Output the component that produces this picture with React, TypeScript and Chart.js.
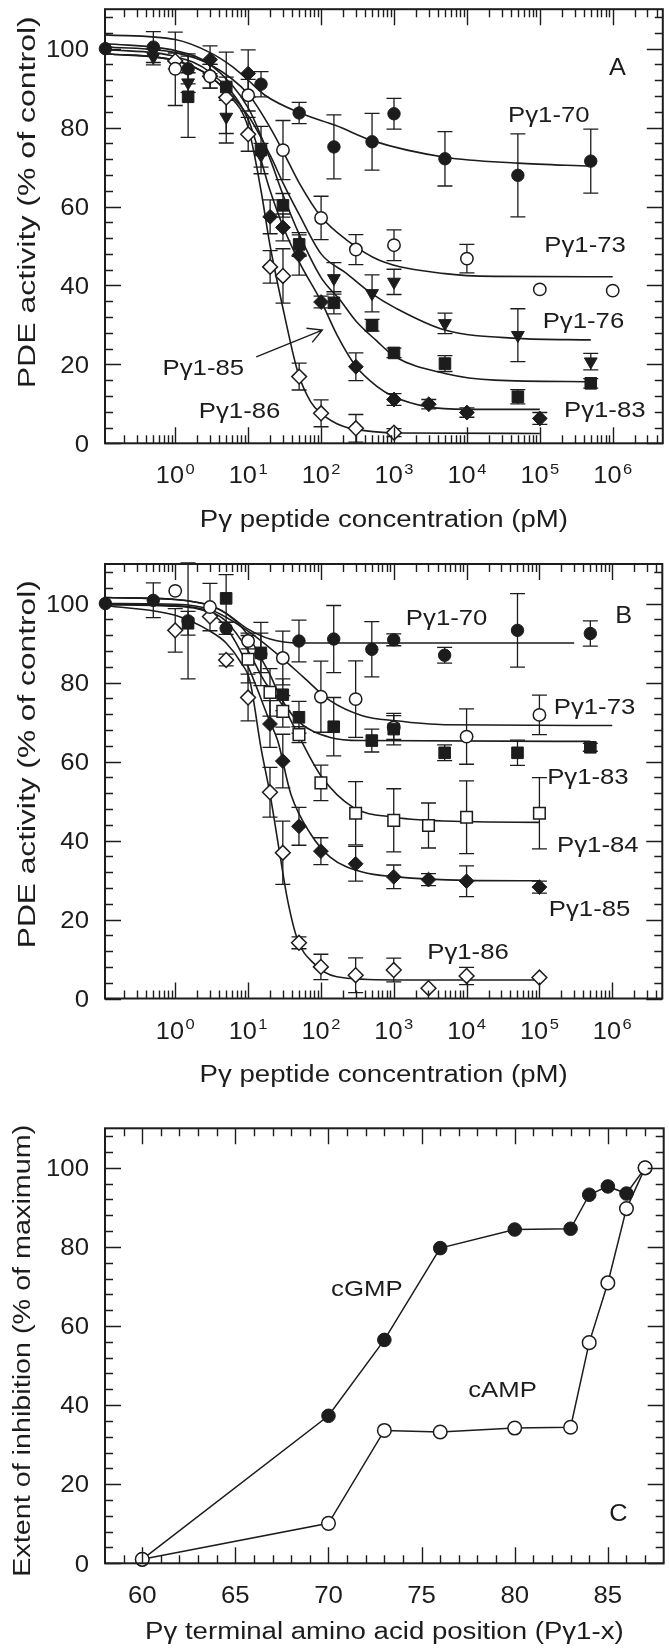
import React, { useEffect, useRef } from 'react';
import { Chart, registerables } from 'chart.js';
Chart.register(...registerables);

const INK = '#1c1c1c';
const FONT = '"Liberation Sans", Arial, Helvetica, sans-serif';

// control (no peptide) is drawn at the left axis
const CTRL = 0.11;

// ---------------- Panel A (cGMP hydrolysis) ----------------
const aX70 = [CTRL, 0.5, 1.5, 15, 50, 150, 500, 1000, 5000, 5e4, 5e5];
const aY70 = [100, 100.4, 94.9, 91.0, 83.7, 75.1, 76.4, 83.5, 72.1, 67.9, 71.5];
const aE70 = [0, 3.9, 3.8, 3.2, 2.7, 8.1, 7.2, 3.9, 6.9, 10.5, 8.1];

const aX73 = [1, 3, 10, 30, 100, 300, 1000, 1e4, 1e5, 1e6];
const aY73 = [94.9, 93.0, 88.2, 74.3, 57.1, 49.1, 50.2, 46.8, 39.0, 38.7];
const aE73 = [9.3, 3.0, 4.0, 7.5, 5.5, 3.8, 3.9, 3.6, 0, 0];

const aX76 = [0.5, 1.5, 5, 15, 150, 500, 1000, 5000, 5e4, 5e5];
const aY76 = [97.9, 91.4, 82.7, 73.0, 41.8, 38.0, 40.9, 30.4, 27.4, 20.7];
const aE76 = [2, 2.5, 4.2, 3, 4, 4.7, 3.2, 2.6, 6.7, 2.1];

const aX83 = [1.5, 5, 15, 30, 50, 150, 500, 1000, 5000, 5e4, 5e5];
const aY83 = [87.8, 90.3, 74.3, 60.3, 50.4, 35.6, 29.9, 22.9, 20.2, 11.8, 15.2];
const aE83 = [10.3, 2.5, 6, 3, 3, 2.8, 1.5, 1.2, 2, 1.8, 1.2];

const aX85 = [3, 10, 20, 30, 50, 100, 300, 1000, 3000, 1e4, 1e5];
const aY85 = [97.2, 93.7, 57.4, 54.7, 47.7, 35.8, 19.4, 11.1, 9.9, 7.8, 6.3];
const aE85 = [3.5, 6, 4.3, 3.4, 5.1, 1.5, 3.5, 1.5, 1.2, 1.2, 1.5];

const aX86 = [1, 3, 5, 10, 20, 30, 50, 100, 300, 1000];
const aY86 = [96.9, 93.0, 87.6, 78.3, 44.7, 42.4, 16.9, 7.6, 3.8, 2.7];
const aE86 = [2, 3, 11.5, 4.3, 4.1, 6.9, 3.4, 3.4, 3.5, 1];

// fitted curves, panel A
const aCx70 = [CTRL, 1, 3, 6, 10, 17, 50, 160, 500, 5000, 5e4, 5e5];
const aCy70 = [103.5, 102.3, 99, 95.5, 92, 88.2, 83.8, 80.5, 76.7, 72.5, 71, 70.2];
const aCx73 = [CTRL, 1, 3, 10, 20, 30, 50, 100, 225, 630, 5000, 2.4e4, 1e6];
const aCy73 = [100.5, 99, 96, 88.5, 80, 74, 66, 57.4, 51.5, 46.4, 43, 42.3, 42.2];
const aCx76 = [CTRL, 1, 3, 10, 20, 30, 50, 100, 225, 490, 1070, 5000, 5e4, 5e5];
const aCy76 = [98.7, 97, 93, 83, 73, 66, 58, 48, 43, 38, 34.2, 28.7, 26.6, 26.2];
const aCx83 = [CTRL, 1, 3, 10, 20, 30, 50, 100, 182, 300, 575, 1020, 5000, 2.4e4, 5e5];
const aCy83 = [101.3, 99.5, 96, 85, 72, 63, 53, 42, 36.3, 31, 26, 22, 17.7, 16, 15.6];
const aCx85 = [CTRL, 1, 3, 10, 20, 30, 50, 100, 165, 300, 575, 1000, 2800, 1e4, 1e5];
const aCy85 = [99.8, 98, 94, 82, 64, 55, 46, 36, 27.5, 19.5, 14.5, 11.8, 9.3, 8.6, 8.6];
const aCx86 = [CTRL, 1, 3, 5, 10, 15, 20, 31, 48, 72, 100, 200, 575, 1000, 1e5];
const aCy86 = [98.7, 97, 93, 89, 80, 64, 50, 33, 18, 10.5, 7.6, 4.3, 2.9, 2.6, 2.5];

// ---------------- Panel B (cAMP hydrolysis) ----------------
const bX70 = [CTRL, 0.5, 1.5, 5, 15, 50, 150, 500, 1000, 5000, 5e4, 5e5];
const bY70 = [100, 100.8, 95.6, 93.7, 87.2, 90.5, 91.0, 88.4, 90.8, 86.9, 93.2, 92.4];
const bE70 = [0, 4.4, 14.7, 1.5, 8, 5.3, 8.5, 7, 1.5, 2, 9.3, 3.2];

const bX73 = [1, 3, 10, 30, 100, 300, 1000, 1e4, 1e5];
const bY73 = [103.2, 99.1, 90.5, 86.2, 76.4, 75.8, 68.6, 66.3, 71.8];
const bE73 = [0, 6, 2, 6.8, 9, 9.7, 3, 7, 5];

const bX83 = [1.5, 5, 15, 30, 50, 150, 500, 1000, 5000, 5e4, 5e5];
const bY83 = [95.0, 101.3, 87.5, 76.9, 71.2, 68.8, 65.3, 68.2, 62.2, 62.2, 63.6];
const bE83 = [3, 6, 5, 4, 4, 7.4, 2.9, 4, 2, 3.2, 1];

const bX84 = [10, 20, 30, 50, 100, 300, 1000, 3000, 1e4, 1e5];
const bY84 = [85.9, 77.5, 72.7, 66.8, 54.6, 46.9, 45.1, 43.8, 45.9, 46.9];
const bE84 = [6, 6, 4, 2, 4.5, 8, 8, 5.7, 9.2, 9];

const bX85 = [20, 30, 50, 100, 300, 1000, 3000, 1e4, 1e5];
const bY85 = [69.5, 60.1, 43.6, 37.3, 34.1, 30.8, 30.1, 29.7, 28.2];
const bE85 = [5.9, 6.8, 4.8, 3.4, 4.4, 3, 1.5, 3.9, 1.5];

const bX86 = [1, 3, 5, 10, 20, 30, 50, 100, 300, 1000, 3000, 1e4, 1e5];
const bY86 = [93.2, 96.7, 85.7, 76.2, 52.2, 36.9, 14.1, 8.0, 5.9, 7.2, 2.6, 5.7, 5.3];
const bE86 = [5.5, 0, 1.5, 5.9, 6.3, 8, 1.5, 3.2, 4.4, 3, 0, 2.2, 0];

const bCx70 = [CTRL, 1, 3, 5, 10, 20, 50, 3e5];
const bCy70 = [101.5, 101, 99.5, 97.5, 93.5, 91, 90, 90];
const bCx73 = [CTRL, 1, 3, 10, 30, 58, 134, 370, 1070, 5000, 1e6];
const bCy73 = [100, 99.8, 98.5, 93, 86, 81.3, 75.4, 71.6, 70.3, 69.3, 69.1];
const bCx83 = [CTRL, 1, 3, 5, 10, 14, 20, 28, 48, 134, 370, 5e5];
const bCy83 = [101.5, 101, 99.5, 97.5, 92, 87.2, 82, 76.2, 70.3, 66.1, 65.3, 65.1];
const bCx84 = [CTRL, 1, 3, 5, 10, 16.7, 31, 48, 100, 277, 1000, 1e4, 1e5];
const bCy84 = [99.8, 99.5, 98, 95.5, 88, 80.4, 73.7, 67, 56.4, 48.4, 45.9, 44.8, 44.6];
const bCx85 = [CTRL, 1, 3, 5, 10, 20, 25.5, 38.6, 72, 134, 370, 1070, 1e4, 1e5];
const bCy85 = [99.7, 99.3, 97.5, 94, 84, 70, 65.3, 51.8, 41.7, 35.8, 32, 30.8, 29.9, 29.8];
const bCx86 = [CTRL, 1, 3, 5, 8, 10.6, 15, 20, 26.8, 34.9, 48, 80, 165, 1000, 1e5];
const bCy86 = [99.5, 97, 93, 90, 85, 80.4, 63.6, 51.8, 37.5, 24.9, 14.8, 8.9, 5.5, 4.7, 4.7];

// ---------------- Panel C ----------------
const cPos = [60, 70, 73, 76, 80, 83, 84, 85, 86, 87];
const cGMP = [1, 37.3, 56.5, 79.7, 84.4, 84.6, 93.2, 95.3, 93.5, 100];
const cAMP = [1, 10.1, 33.6, 33.2, 34.2, 34.4, 55.8, 70.9, 89.7, 100];

// ---------------- axes / tick labels ----------------
const LOG_MIN = 0.10864;
const LOG_MAX = 4.864e6;
const LOG_MAJOR = [1, 10, 100, 1e3, 1e4, 1e5, 1e6];
const LOG_EXP = ['0', '1', '2', '3', '4', '5', '6'];
const Y_MAJOR = [0, 20, 40, 60, 80, 100];
const Y_LABELS = ['0', '20', '40', '60', '80', '100'];
const C_MAJOR = [60, 65, 70, 75, 80, 85];
const C_LABELS = ['60', '65', '70', '75', '80', '85'];

const logMinor: number[] = [];
for (let e = -1; e <= 6; e++) for (let k = 2; k <= 9; k++) {
  const v = k * Math.pow(10, e);
  if (v > LOG_MIN && v < LOG_MAX) logMinor.push(v);
}
const yMinor: number[] = [];
for (let v = 4; v <= 108; v += 4) if (v % 20 !== 0) yMinor.push(v);
const cMinor: number[] = [];
for (let v = 59; v <= 87; v++) if (v % 5 !== 0) cMinor.push(v);

type Note = { text: string; x: number; y: number; align: 'left' | 'center'; size?: number; sx?: number };

const notesA: Note[] = [
  { text: 'Pγ1-70', x: 36700, y: 83.4, align: 'left' },
  { text: 'Pγ1-73', x: 115300, y: 50.4, align: 'left' },
  { text: 'Pγ1-76', x: 109400, y: 31.2, align: 'left' },
  { text: 'Pγ1-83', x: 214800, y: 8.6, align: 'left' },
  { text: 'Pγ1-85', x: 0.669, y: 19.4, align: 'left' },
  { text: 'Pγ1-86', x: 2.1, y: 8.4, align: 'left' },
  { text: 'A', x: 1.158e6, y: 95.4, align: 'center', size: 23, sx: 1.1 },
];
const arrowA = { x1: 12.9, y1: 21.9, x2: 104, y2: 28.7 };

const notesB: Note[] = [
  { text: 'Pγ1-70', x: 1466, y: 96.6, align: 'left' },
  { text: 'B', x: 1.43e6, y: 97.1, align: 'center', size: 23, sx: 1.1 },
  { text: 'Pγ1-73', x: 157400, y: 74.1, align: 'left' },
  { text: 'Pγ1-83', x: 127600, y: 56.4, align: 'left' },
  { text: 'Pγ1-84', x: 174600, y: 39.0, align: 'left' },
  { text: 'Pγ1-85', x: 134600, y: 22.8, align: 'left' },
  { text: 'Pγ1-86', x: 2884, y: 12.1, align: 'left' },
];

const notesC: Note[] = [
  { text: 'cGMP', x: 70.14, y: 69.6, align: 'left' },
  { text: 'cAMP', x: 77.5, y: 44, align: 'left' },
  { text: 'C', x: 85.57, y: 12.7, align: 'center', size: 23, sx: 1.1 },
];

// ---------------- drawing helpers ----------------
function txt(ctx: CanvasRenderingContext2D, s: string, x: number, yBase: number, size: number, align: string, sx = 1) {
  ctx.save();
  ctx.font = `${size}px ${FONT}`;
  ctx.fillStyle = INK;
  ctx.textBaseline = 'alphabetic';
  ctx.textAlign = 'left';
  const w = ctx.measureText(s).width * sx;
  const x0 = align === 'left' ? x : align === 'center' ? x - w / 2 : x - w;
  ctx.translate(x0, yBase);
  ctx.scale(sx, 1);
  ctx.fillText(s, 0, 0);
  ctx.restore();
  return w;
}

type Decor = {
  log: boolean;
  xMajor: number[];
  xMinor: number[];
  xLabels: string[];
  xTitle: string;
  xTitleOffset: number;
  yTitle: string;
  yTitleLen: number;
  yTitleShift: number;
  yTitleX: number;
  notes: Note[];
  arrow?: { x1: number; y1: number; x2: number; y2: number };
};

const CAP = 7.5;
const MAJ = 16;
const MIN = 8;

function makeDecor(d: Decor) {
  return {
    id: 'decor',
    beforeDatasetsDraw(chart: any) {
      const ctx: CanvasRenderingContext2D = chart.ctx;
      const xs = chart.scales.x, ys = chart.scales.y;
      ctx.save();
      ctx.strokeStyle = INK;
      ctx.lineWidth = 1.3;
      chart.data.datasets.forEach((ds: any) => {
        if (!ds.errors) return;
        ds.data.forEach((p: any, i: number) => {
          const e = ds.errors[i];
          if (!e) return;
          const px = xs.getPixelForValue(p.x);
          const y1 = ys.getPixelForValue(p.y + e);
          const y2 = ys.getPixelForValue(p.y - e);
          ctx.beginPath();
          ctx.moveTo(px, y1); ctx.lineTo(px, y2);
          ctx.moveTo(px - CAP, y1); ctx.lineTo(px + CAP, y1);
          ctx.moveTo(px - CAP, y2); ctx.lineTo(px + CAP, y2);
          ctx.stroke();
        });
      });
      ctx.restore();
    },
    afterDraw(chart: any) {
      const ctx: CanvasRenderingContext2D = chart.ctx;
      const xs = chart.scales.x, ys = chart.scales.y;
      const { left, right, top, bottom } = chart.chartArea;
      ctx.save();
      ctx.strokeStyle = INK;
      ctx.lineWidth = 1.4;
      ctx.beginPath();
      const vt = (v: number, len: number) => {
        const px = Math.round(xs.getPixelForValue(v)) + 0.5;
        ctx.moveTo(px, bottom); ctx.lineTo(px, bottom - len);
        ctx.moveTo(px, top); ctx.lineTo(px, top + len);
      };
      const ht = (v: number, len: number) => {
        const py = Math.round(ys.getPixelForValue(v)) + 0.5;
        ctx.moveTo(left, py); ctx.lineTo(left + len, py);
        ctx.moveTo(right, py); ctx.lineTo(right - len, py);
      };
      d.xMajor.forEach((v) => vt(v, MAJ));
      d.xMinor.forEach((v) => vt(v, MIN));
      Y_MAJOR.forEach((v) => ht(v, MAJ));
      yMinor.forEach((v) => ht(v, MIN));
      ctx.stroke();
      ctx.lineWidth = 2;
      ctx.strokeRect(left, top, right - left, bottom - top);
      ctx.restore();

      // y tick labels
      Y_MAJOR.forEach((v, i) => {
        const py = ys.getPixelForValue(v);
        txt(ctx, Y_LABELS[i], left - 16, py + 8.2, 23, 'right', 1.12);
      });
      // x tick labels
      d.xMajor.forEach((v, i) => {
        const px = xs.getPixelForValue(v);
        const base = bottom + 40;
        if (d.log) {
          ctx.save();
          ctx.font = `23px ${FONT}`;
          const w10 = ctx.measureText('10').width * 1.1;
          ctx.font = `15px ${FONT}`;
          const we = ctx.measureText(d.xLabels[i]).width * 1.1;
          ctx.restore();
          const start = px - (w10 + 1.5 + we) / 2;
          txt(ctx, '10', start, base, 23, 'left', 1.1);
          txt(ctx, d.xLabels[i], start + w10 + 1.5, base - 9.3, 15, 'left', 1.1);
        } else {
          txt(ctx, d.xLabels[i], px, base, 23, 'center', 1.12);
        }
      });
      // x title
      txt(ctx, d.xTitle, (left + right) / 2, bottom + d.xTitleOffset, 23, 'center', 1.2);
      // y title (rotated)
      ctx.save();
      ctx.font = `23px ${FONT}`;
      ctx.fillStyle = INK;
      const w = ctx.measureText(d.yTitle).width;
      ctx.translate(d.yTitleX + 8.2, (top + bottom) / 2 + d.yTitleShift);
      ctx.rotate(-Math.PI / 2);
      ctx.scale(d.yTitleLen / w, 1);
      ctx.fillText(d.yTitle, -w / 2, 0);
      ctx.restore();
      // notes
      d.notes.forEach((n) => {
        const px = xs.getPixelForValue(n.x);
        const py = ys.getPixelForValue(n.y);
        const size = n.size || 22;
        txt(ctx, n.text, px, py + 0.358 * size, size, n.align, n.sx || 1.17);
      });
      if (d.arrow) {
        const a = d.arrow;
        const x1 = xs.getPixelForValue(a.x1), y1 = ys.getPixelForValue(a.y1);
        const x2 = xs.getPixelForValue(a.x2), y2 = ys.getPixelForValue(a.y2);
        const ang = Math.atan2(y1 - y2, x1 - x2);
        ctx.save();
        ctx.strokeStyle = INK;
        ctx.lineWidth = 1.4;
        ctx.beginPath();
        ctx.moveTo(x1, y1); ctx.lineTo(x2, y2);
        const L = 16, sp = 0.5;
        ctx.moveTo(x2 + L * Math.cos(ang + sp), y2 + L * Math.sin(ang + sp));
        ctx.lineTo(x2, y2);
        ctx.lineTo(x2 + L * Math.cos(ang - sp), y2 + L * Math.sin(ang - sp));
        ctx.stroke();
        ctx.restore();
      }
    },
  };
}

type Mk = { ps: string; r: number; open: boolean; rot?: number };
const F_CIRCLE: Mk = { ps: 'circle', r: 6.2, open: false };
const O_CIRCLE: Mk = { ps: 'circle', r: 6.2, open: true };
const F_SQUARE: Mk = { ps: 'rect', r: 8.2, open: false };
const O_SQUARE: Mk = { ps: 'rect', r: 8.2, open: true };
const F_DIAMOND: Mk = { ps: 'rectRot', r: 7.4, open: false };
const O_DIAMOND: Mk = { ps: 'rectRot', r: 7.4, open: true };
const F_TRIDOWN: Mk = { ps: 'triangle', r: 7.4, open: false, rot: 180 };

function pts(xs: number[], ys: number[]) {
  return xs.map((x, i) => ({ x, y: ys[i] }));
}

function markers(xs: number[], ys: number[], errs: number[] | null, m: Mk, order = 0) {
  return {
    data: pts(xs, ys),
    errors: errs,
    showLine: false,
    pointStyle: m.ps,
    pointRadius: m.r,
    pointHoverRadius: m.r,
    pointRotation: m.rot || 0,
    pointBackgroundColor: m.open ? '#ffffff' : INK,
    pointBorderColor: INK,
    pointBorderWidth: m.open ? 1.5 : 1,
    clip: false,
    order,
  };
}

function curve(xs: number[], ys: number[]) {
  return {
    data: pts(xs, ys),
    showLine: true,
    borderColor: INK,
    borderWidth: 1.6,
    pointRadius: 0,
    pointHoverRadius: 0,
    cubicInterpolationMode: 'monotone',
    fill: false,
    clip: false,
    order: 1,
  };
}

function baseOptions(padding: any, xScale: any) {
  return {
    responsive: false,
    animation: false,
    devicePixelRatio: 1,
    events: [],
    layout: { padding },
    plugins: { legend: { display: false }, tooltip: { enabled: false }, title: { display: false } },
    scales: {
      x: { ...xScale, display: false },
      y: { type: 'linear', min: 0, max: 110, display: false },
    },
  };
}

function buildA(): any {
  return {
    type: 'scatter',
    data: {
      datasets: [
        markers(aX70, aY70, aE70, F_CIRCLE),
        markers(aX73, aY73, aE73, O_CIRCLE),
        markers(aX76, aY76, aE76, F_TRIDOWN),
        markers(aX83, aY83, aE83, F_SQUARE),
        markers(aX85, aY85, aE85, F_DIAMOND),
        markers(aX86, aY86, aE86, O_DIAMOND),
        curve(aCx70, aCy70),
        curve(aCx73, aCy73),
        curve(aCx76, aCy76),
        curve(aCx83, aCy83),
        curve(aCx85, aCy85),
        curve(aCx86, aCy86),
      ],
    },
    options: baseOptions({ left: 105, right: 2, top: 9, bottom: 101.7 }, { type: 'logarithmic', min: LOG_MIN, max: LOG_MAX }),
    plugins: [makeDecor({
      log: true, xMajor: LOG_MAJOR, xMinor: logMinor, xLabels: LOG_EXP,
      xTitle: 'Pγ peptide concentration (pM)', xTitleOffset: 83.4,
      yTitle: 'PDE activity (% of control)',
      yTitleLen: 372, yTitleShift: -24, yTitleX: 27, notes: notesA, arrow: arrowA,
    })],
  };
}

function buildB(): any {
  return {
    type: 'scatter',
    data: {
      datasets: [
        markers(bX70, bY70, bE70, F_CIRCLE),
        markers(bX83, bY83, bE83, F_SQUARE),
        markers(bX73, bY73, bE73, O_CIRCLE),
        markers(bX84, bY84, bE84, O_SQUARE),
        markers(bX85, bY85, bE85, F_DIAMOND),
        markers(bX86, bY86, bE86, O_DIAMOND),
        curve(bCx70, bCy70),
        curve(bCx73, bCy73),
        curve(bCx83, bCy83),
        curve(bCx84, bCy84),
        curve(bCx85, bCy85),
        curve(bCx86, bCy86),
      ],
    },
    options: baseOptions({ left: 105, right: 2, top: 19, bottom: 91.5 }, { type: 'logarithmic', min: LOG_MIN, max: LOG_MAX }),
    plugins: [makeDecor({
      log: true, xMajor: LOG_MAJOR, xMinor: logMinor, xLabels: LOG_EXP,
      xTitle: 'Pγ peptide concentration (pM)', xTitleOffset: 83.4,
      yTitle: 'PDE activity (% of control)',
      yTitleLen: 368, yTitleShift: -17, yTitleX: 27, notes: notesB,
    })],
  };
}

function buildC(): any {
  const line = (ys: number[], m: Mk, order: number) => ({
    ...markers(cPos, ys, null, m, order),
    showLine: true,
    borderColor: INK,
    borderWidth: 1.5,
    tension: 0,
    pointRadius: 6.8,
    pointHoverRadius: 6.8,
  });
  return {
    type: 'scatter',
    data: {
      datasets: [
        line(cAMP, O_CIRCLE, 0),
        line(cGMP, F_CIRCLE, 1),
      ],
    },
    options: baseOptions({ left: 105, right: 3, top: 38.3, bottom: 84.7 }, { type: 'linear', min: 58, max: 88 }),
    plugins: [makeDecor({
      log: false, xMajor: C_MAJOR, xMinor: cMinor, xLabels: C_LABELS,
      xTitle: 'Pγ terminal amino acid position (Pγ1-x)', xTitleOffset: 76,
      yTitle: 'Extent of inhibition (% of maximum)',
      yTitleLen: 452, yTitleShift: 5, yTitleX: 22, notes: notesC,
    })],
  };
}

export default function App() {
  const refA = useRef<HTMLCanvasElement>(null);
  const refB = useRef<HTMLCanvasElement>(null);
  const refC = useRef<HTMLCanvasElement>(null);
  useEffect(() => {
    const charts = [
      new Chart(refA.current as HTMLCanvasElement, buildA()),
      new Chart(refB.current as HTMLCanvasElement, buildB()),
      new Chart(refC.current as HTMLCanvasElement, buildC()),
    ];
    return () => charts.forEach((c) => c.destroy());
  }, []);
  return (
    <div style={{ position: 'absolute', left: 0, top: 0, width: 669, height: 1648, overflow: 'hidden', background: '#ffffff' }}>
      <canvas ref={refA} width={672} height={545} style={{ position: 'absolute', left: 0, top: 0 }} />
      <canvas ref={refB} width={672} height={545} style={{ position: 'absolute', left: 0, top: 545 }} />
      <canvas ref={refC} width={672} height={558} style={{ position: 'absolute', left: 0, top: 1090 }} />
    </div>
  );
}
